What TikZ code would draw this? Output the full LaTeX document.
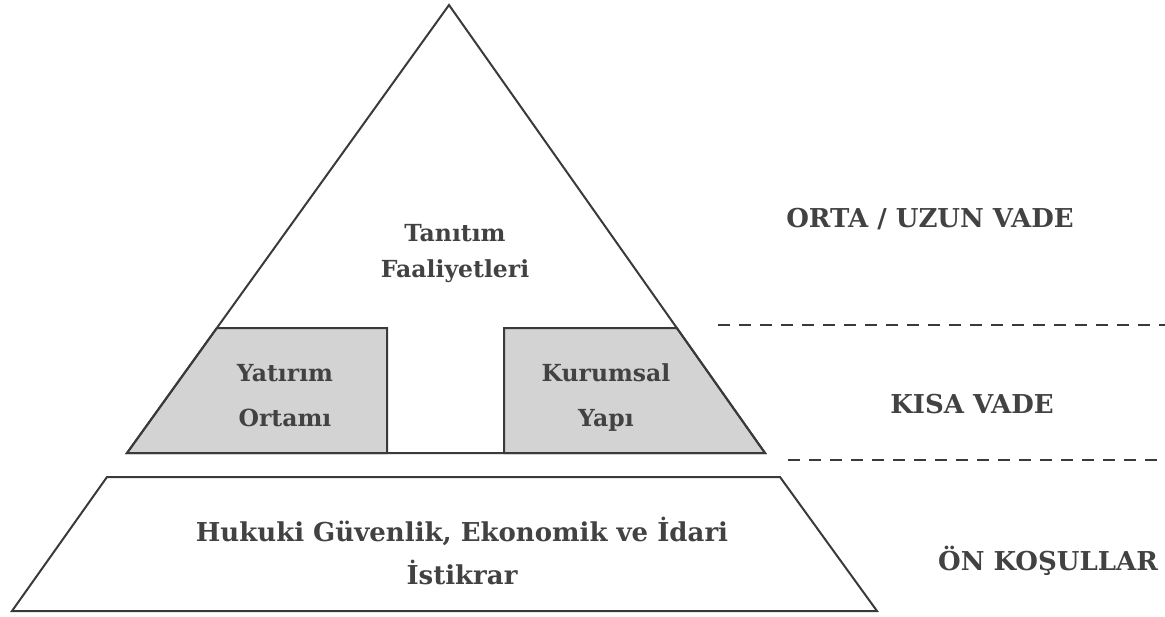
\documentclass[tikz,border=0pt]{standalone}
\usepackage{fontspec}
\setmainfont{DejaVu Serif}
\usetikzlibrary{calc}

\definecolor{linegray}{HTML}{3A3A3A}
\definecolor{textgray}{HTML}{424242}
\definecolor{boxgray}{HTML}{D3D3D3}

\begin{document}
\begin{tikzpicture}[x=1pt, y=-1pt,
    outline/.style={draw=linegray, line width=2pt, line join=miter},
    gray part/.style={outline, fill=boxgray},
    inner text/.style={text=textgray, align=center, text depth=0pt,
        font=\fontsize{23.5}{36}\selectfont\bfseries},
    level text/.style={text=textgray, anchor=base,
        font=\fontsize{26}{30}\selectfont\bfseries},
    level line/.style={draw=linegray, line width=2pt,
        dash pattern=on 12pt off 9pt}
    ]
    \useasboundingbox (0,0) rectangle (1165,616);

    % pyramid corners
    \coordinate (apex) at (449,5);
    \coordinate (base left) at (127,453);
    \coordinate (base right) at (765,453);
    \coordinate (cut left) at ($(base left)!0.279!(apex)$);
    \coordinate (cut right) at ($(base right)!0.279!(apex)$);

    % short term blocks
    \draw [gray part] (base left) -- (cut left) -- (387,328) -- (387,453) -- cycle;
    \draw [gray part] (504,453) -- (504,328) -- (cut right) -- (base right) -- cycle;
    \draw [outline] (apex) -- (base left) -- (base right) -- cycle;

    % foundation
    \draw [outline] (12,611) -- (107,477) -- (780,477) -- (877,611) -- cycle;

    \node [inner text] (promo) at (455,251) {Tanıtım\\Faaliyetleri};
    \node [inner text] (invest) at (285,395) {Yatırım\\[9pt]Ortamı};
    \node [inner text] (inst) at (606,395) {Kurumsal\\[9pt]Yapı};
    \node [inner text, font=\fontsize{26}{36}\selectfont\bfseries] (legal)
        at (462,551) {Hukuki Güvenlik, Ekonomik ve İdari\\[7pt]İstikrar};

    % time scale on the right
    \coordinate (upper from) at (718,325);
    \coordinate (upper to) at (1165,325);
    \coordinate (lower from) at (788,460);
    \coordinate (lower to) at (1165,460);
    \draw [level line] (upper from) -- (upper to);
    \draw [level line] (lower from) -- (lower to);

    \node [level text] (long) at (930,227) {ORTA / UZUN VADE};
    \node [level text] (short) at (972,413) {KISA VADE};
    \node [level text] (pre) at (1048,570) {ÖN KOŞULLAR};
\end{tikzpicture}
\end{document}
